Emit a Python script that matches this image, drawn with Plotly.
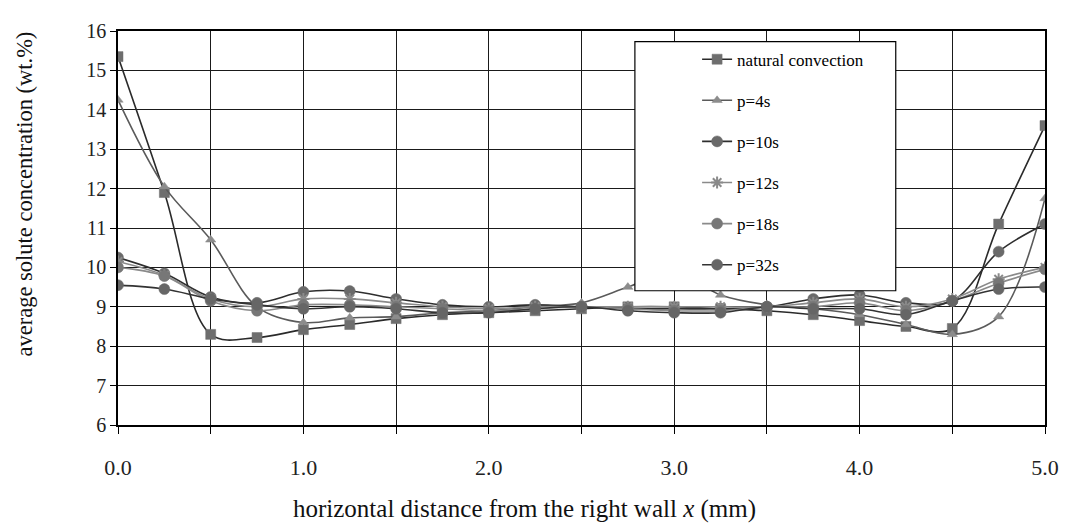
import plotly.graph_objects as go

x_pos = [0.0, 0.25, 0.5, 0.75, 1.0, 1.25, 1.5, 1.75, 2.0, 2.25, 2.5,
         2.75, 3.0, 3.25, 3.5, 3.75, 4.0, 4.25, 4.5, 4.75, 5.0]

natural = [15.35, 11.9, 8.3, 8.22, 8.42, 8.55, 8.7, 8.8, 8.85, 8.9, 8.95,
           9.0, 9.0, 8.95, 8.9, 8.8, 8.65, 8.5, 8.45, 11.1, 13.6]
p4 = [14.25, 12.05, 10.7, 9.0, 8.6, 8.72, 8.75, 8.85, 8.9, 9.0, 9.1,
      9.5, 9.9, 9.3, 9.05, 8.95, 8.8, 8.55, 8.3, 8.75, 11.75]
p10 = [10.25, 9.85, 9.25, 9.1, 9.38, 9.4, 9.2, 9.05, 9.0, 9.05, 9.0,
       8.95, 8.95, 8.95, 9.0, 9.2, 9.3, 9.1, 9.15, 10.4, 11.1]
p12 = [10.15, 9.8, 9.2, 9.0, 9.2, 9.2, 9.1, 9.0, 8.95, 9.0, 9.0,
       9.0, 9.0, 9.0, 9.0, 9.1, 9.2, 9.0, 9.2, 9.7, 10.0]
p18 = [10.0, 9.78, 9.15, 8.9, 9.05, 9.05, 9.0, 8.95, 8.9, 8.95, 9.0,
       8.95, 8.9, 8.9, 9.0, 9.0, 9.1, 8.9, 9.15, 9.6, 9.95]
p32 = [9.55, 9.45, 9.2, 9.05, 8.95, 9.0, 8.95, 8.85, 8.85, 8.95, 9.0,
       8.9, 8.85, 8.85, 9.0, 8.95, 8.95, 8.8, 9.15, 9.45, 9.5]

series_names = ["natural convection", "p=4s", "p=10s", "p=12s", "p=18s", "p=32s"]
series_values = [natural, p4, p10, p12, p18, p32]

x_tickvals = [0.0, 0.5, 1.0, 1.5, 2.0, 2.5, 3.0, 3.5, 4.0, 4.5, 5.0]
x_ticktext = ["0.0", "", "1.0", "", "2.0", "", "3.0", "", "4.0", "", "5.0"]
y_tickvals = [6, 7, 8, 9, 10, 11, 12, 13, 14, 15, 16]

styles = [
    dict(symbol="square", size=10, color="#6e6e6e", line="#2a2a2a"),
    dict(symbol="triangle-up", size=9, color="#8c8c8c", line="#5a5a5a"),
    dict(symbol="circle", size=11, color="#6a6a6a", line="#2e2e2e"),
    dict(symbol="asterisk-open", size=10, color="#3a3a3a", line="#8a8a8a"),
    dict(symbol="circle", size=11, color="#777777", line="#8a8a8a"),
    dict(symbol="circle", size=11, color="#666666", line="#333333"),
]

SERIF = "Liberation Serif, Times New Roman, serif"

fig = go.Figure()
for i, (name, vals) in enumerate(zip(series_names, series_values)):
    st = styles[i]
    if st["symbol"] == "asterisk-open":
        marker = dict(symbol=st["symbol"], size=st["size"],
                      line=dict(color=st["color"], width=2))
    else:
        marker = dict(symbol=st["symbol"], size=st["size"], color=st["color"],
                      line=dict(color=st["color"], width=0.5))
    fig.add_trace(go.Scatter(
        x=x_pos, y=vals, name=name, mode="lines+markers",
        line=dict(color=st["line"], width=1.6, shape="spline", smoothing=1.0),
        marker=marker, legendgroup=name,
    ))

# legend background box
fig.add_shape(type="rect", xref="paper", yref="paper",
              x0=0.5576, x1=0.839, y0=0.3407, y1=0.973,
              fillcolor="white", line=dict(color="black", width=1.2),
              layer="above")

fig.update_layout(
    width=1063, height=516,
    margin=dict(l=110, r=15, t=12, b=99),
    paper_bgcolor="white", plot_bgcolor="white",
    font=dict(family=SERIF, color="black"),
    showlegend=True,
    legend=dict(x=0.6247, y=0.973, xanchor="left", yanchor="top",
                bgcolor="rgba(0,0,0,0)", borderwidth=0,
                font=dict(family=SERIF, size=17, color="black"),
                traceorder="grouped", tracegroupgap=16),
    xaxis=dict(range=[0, 5], tickvals=x_tickvals, ticktext=x_ticktext,
               showgrid=True, gridcolor="#1a1a1a", gridwidth=1,
               showline=True, linecolor="black", linewidth=1.5, mirror=True,
               ticks="outside", ticklen=7, tickcolor="black",
               ticklabelstandoff=15,
               tickfont=dict(family=SERIF, size=22, color="#222"),
               zeroline=False),
    yaxis=dict(range=[6, 16], tickvals=y_tickvals,
               showgrid=True, gridcolor="#1a1a1a", gridwidth=1,
               showline=True, linecolor="black", linewidth=1.5, mirror=True,
               ticks="outside", ticklen=6, tickcolor="black",
               tickfont=dict(family=SERIF, size=20, color="#222"),
               zeroline=False),
    annotations=[
        dict(text="horizontal distance from the right wall <i>x</i> (mm)",
             xref="paper", yref="paper", x=0.439, y=-0.212,
             xanchor="center", yanchor="middle", showarrow=False,
             font=dict(family=SERIF, size=25, color="#111")),
        dict(text="average solute concentration (wt.%)",
             xref="paper", yref="paper", x=-0.101, y=0.586,
             xanchor="center", yanchor="middle", showarrow=False, textangle=-90,
             font=dict(family=SERIF, size=22.5, color="#111")),
    ],
)

fig.write_html("out.html")
